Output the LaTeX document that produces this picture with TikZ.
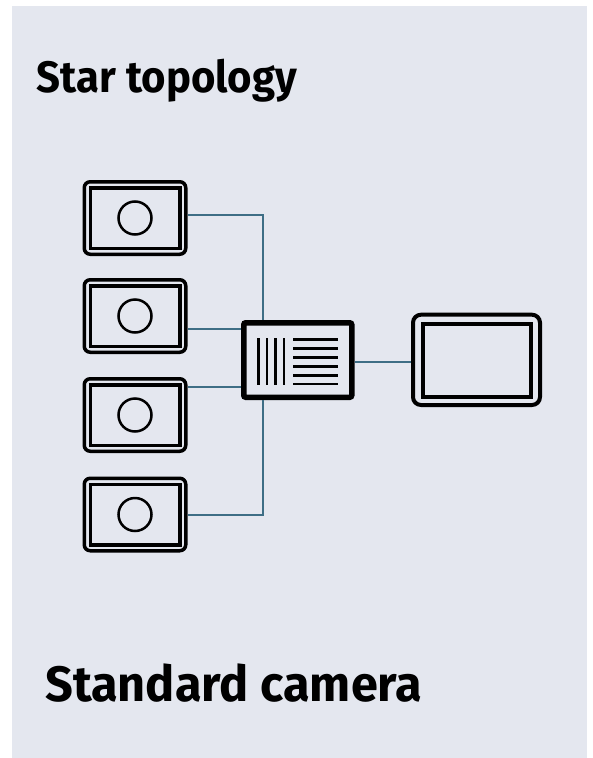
\documentclass[tikz,border=0pt]{standalone}
\usepackage{fontspec}
\setmainfont{Fira Sans}
\usepackage{graphicx}
\usetikzlibrary{calc}
\definecolor{bgc}{RGB}{228,231,239}
\definecolor{linkc}{RGB}{62,110,133}
\tikzset{
  cam/.style={draw=black, line width=3.5pt, rounded corners=6pt, minimum width=101.5pt, minimum height=72.5pt, inner sep=0pt},
  camin/.style={draw=black, line width=3.5pt},
  lens/.style={draw=black, line width=2.5pt},
  hubbox/.style={draw=black, fill=bgc, line width=5.5pt, rounded corners=2pt, minimum width=108pt, minimum height=74.5pt, inner sep=0pt},
  hubline/.style={draw=black, line width=2.4pt},
  monbox/.style={draw=black, line width=4pt, rounded corners=8pt, minimum width=127pt, minimum height=90.3pt, inner sep=0pt},
  monin/.style={draw=black, line width=4pt},
  link/.style={draw=linkc, line width=2pt},
  lbl/.style={anchor=base west, inner sep=0pt, text=black}
}
\begin{document}
\begin{tikzpicture}[x=1pt,y=-1pt]
\useasboundingbox (0,0) rectangle (592,758);
\fill[bgc] (12,6) rectangle (587,758);

\node[lbl] (title) at (36.7,92.7) {\resizebox{260pt}{33.4pt}{\bfseries Star topology}};
\node[lbl] (caption) at (45,701.7) {\resizebox{377pt}{37.7pt}{\bfseries Standard camera}};

% cameras
\foreach \n/\y in {cam1/218,cam2/316,cam3/415,cam4/514.5}{
  \node[cam] (\n) at (135,\y) {};
  \draw[camin] (135-44.75,\y-30.25) rectangle (135+44.75,\y+30.25);
  \draw[lens] (135,\y) circle (16.5);
}

% hub
\node[hubbox] (hub) at (297.75,360) {};
\foreach \x in {258.3,266.8,275.3,283.8}{
  \draw[hubline] (\x,338) -- (\x,385);
}
\foreach \y in {339.5,348.5,357.3,366.3,375.3,384}{
  \draw[hubline] (293.3,\y) -- (337.7,\y);
}

% monitor
\node[monbox] (mon) at (476.5,359.85) {};
\draw[monin] (423,323.7) rectangle (531,397);

% connectors
\coordinate (j1) at (263,215);
\coordinate (j4) at (263,515);
\coordinate (h2) at (241,329);
\coordinate (h3) at (241,387);
\coordinate (m1) at (411,361.7);
\draw[link] (cam1.east |- j1) -- (j1) -- (j1 |- hub.north);
\draw[link] (cam2.east |- h2) -- (h2);
\draw[link] (cam3.east |- h3) -- (h3);
\draw[link] (cam4.east |- j4) -- (j4) -- (j4 |- hub.south);
\draw[link] (hub.east |- m1) -- (m1);
\end{tikzpicture}
\end{document}
